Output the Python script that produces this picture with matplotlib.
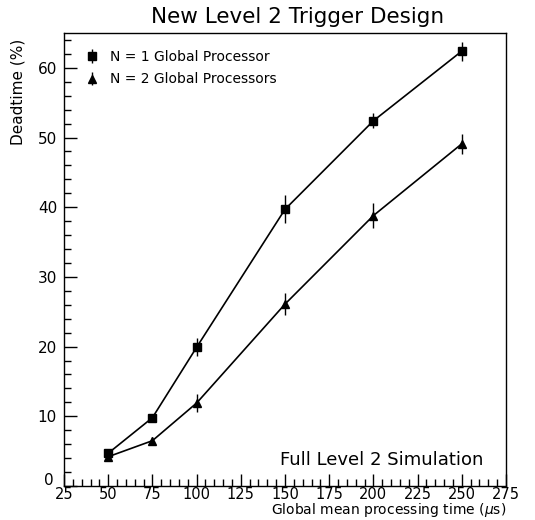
import matplotlib
matplotlib.use("Agg")
import matplotlib.pyplot as plt
import matplotlib.transforms as mtransforms
import numpy as np
from matplotlib.ticker import MultipleLocator

x_time = [50, 75, 100, 150, 200, 250]
dead_n1 = [4.7, 9.8, 19.9, 39.7, 52.4, 62.4]
err_n1 = [0.6, 0.6, 1.3, 2.0, 1.1, 1.35]
dead_n2 = [4.2, 6.5, 11.9, 26.1, 38.8, 49.1]
err_n2 = [0.6, 0.5, 1.35, 1.6, 1.8, 1.4]
labels = ["N = 1 Global Processor", "N = 2 Global Processors"]

plt.rcParams['font.family'] = ['DejaVu Sans']
fig = plt.figure(figsize=(5.35, 5.2), dpi=100)
ax = fig.add_axes([64/535, 1-486/520, (506-64)/535, (486-33)/520])

ax.errorbar(x_time, dead_n1, yerr=err_n1, fmt='-s', color='black', ms=6,
            lw=1.2, elinewidth=1.0, capsize=0)
ax.errorbar(x_time, dead_n2, yerr=err_n2, fmt='-^', color='black', ms=6,
            lw=1.2, elinewidth=1.0, capsize=0)

# legend handles: marker + vertical error bar, no connecting line
l1 = ax.errorbar([np.nan], [np.nan], yerr=[1], fmt='s', color='black', ms=6,
                 elinewidth=1.0, capsize=0)
l2 = ax.errorbar([np.nan], [np.nan], yerr=[1], fmt='^', color='black', ms=6,
                 elinewidth=1.0, capsize=0)

ax.set_xlim(25, 275)
ax.set_ylim(0, 65)
ax.xaxis.set_major_locator(MultipleLocator(25))
ax.xaxis.set_minor_locator(MultipleLocator(5))
ax.yaxis.set_major_locator(MultipleLocator(10))
ax.yaxis.set_minor_locator(MultipleLocator(2))
ax.tick_params(which='both', direction='in', top=False, right=False,
               labelsize=11, width=1)
ax.tick_params(axis='x', labelsize=10.5, pad=1)
ax.tick_params(which='major', length=9)
ax.tick_params(which='minor', length=5)
ax.tick_params(axis='y', pad=5)
for s in ax.spines.values():
    s.set_linewidth(1.0)

fig.canvas.draw()
for lab in ax.get_yticklabels():
    if lab.get_text() in ('0', '−0', '0.0'):
        lab.set_transform(lab.get_transform() +
                          mtransforms.ScaledTranslation(-3/100, 7/100, fig.dpi_scale_trans))

fig.text(298/535, 1-17/520, "New Level 2 Trigger Design", ha='center', va='center', fontsize=15.5)
fig.text(506/535, 1/520, r"Global mean processing time ($\mu$s)", ha='right', va='bottom', fontsize=10)
fig.text(18/535, 1-92/520, "Deadtime (%)", ha='center', va='center', rotation=90, fontsize=11)
fig.text(483/535, 1-460/520, "Full Level 2 Simulation", ha='right', va='center', fontsize=13)

ax.legend([l1, l2], labels, loc='upper left', frameon=False, fontsize=10,
          handlelength=1.0, bbox_to_anchor=(0.02, 0.99), labelspacing=0.6)

fig.savefig("out.png", dpi=100)
